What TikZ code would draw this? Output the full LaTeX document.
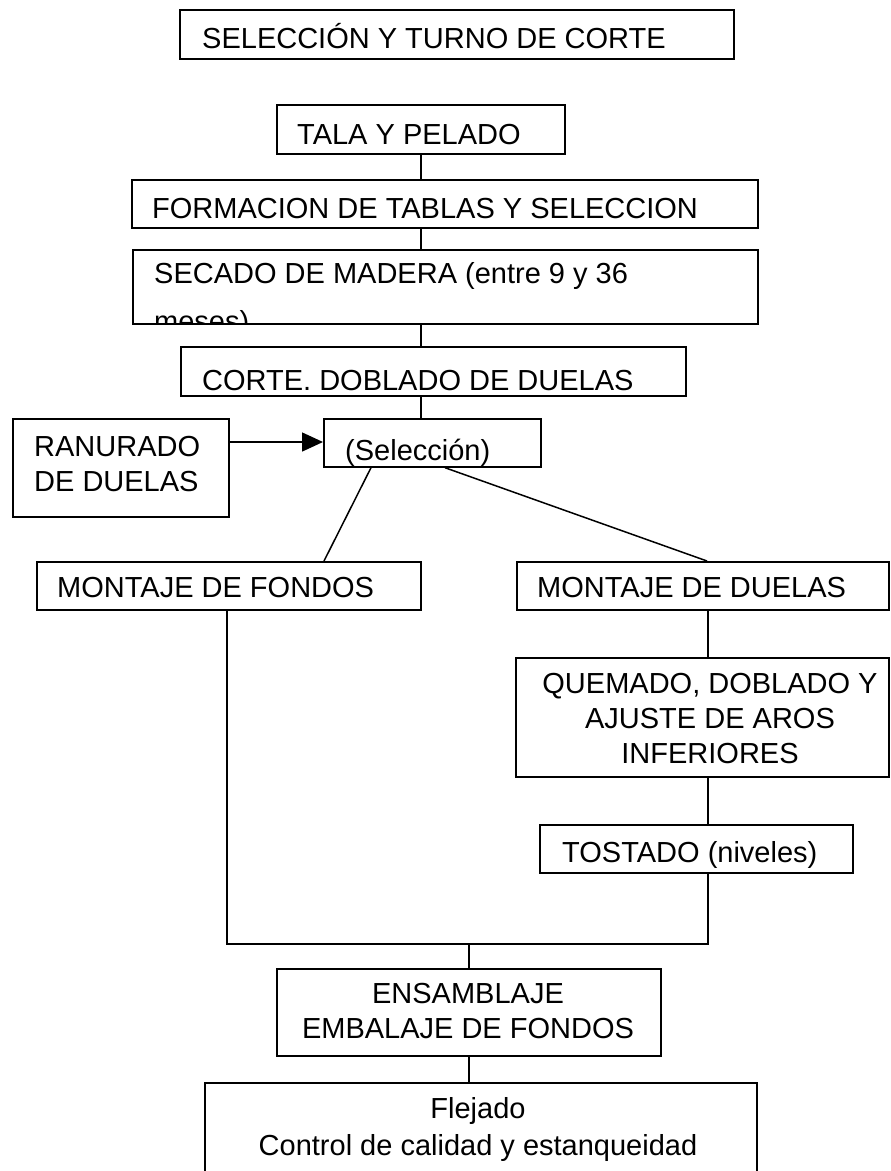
\documentclass[tikz,border=0pt]{standalone}
\usepackage{fontspec}
\setmainfont{Liberation Sans}
\usetikzlibrary{arrows.meta,calc}
\begin{document}
\begin{tikzpicture}[x=1pt,y=-1pt,
  box/.style={draw,line width=1.7pt,inner sep=0pt,anchor=north west},
  txt/.style={inner sep=0pt,anchor=base west,font=\fontsize{29}{35}\selectfont},
  ctxt/.style={inner sep=0pt,anchor=base,font=\fontsize{29}{35}\selectfont},
  conn/.style={line width=1.5pt}]
\useasboundingbox (0,0) rectangle (891,1171);
\fill[white] (0,0) rectangle (891,1171);
\clip (0,0) rectangle (891,1171);
% boxes
\node[box,minimum width=554pt,minimum height=49pt] (sel) at (179,9) {};
\node[box,minimum width=288pt,minimum height=49pt] (tala) at (276,104) {};
\node[box,minimum width=626pt,minimum height=48pt] (form) at (131,179) {};
\node[box,minimum width=625pt,minimum height=74pt] (secado) at (132,249) {};
\node[box,minimum width=505pt,minimum height=49pt] (corte) at (180,346) {};
\node[box,minimum width=216pt,minimum height=98pt] (ran) at (12,418) {};
\node[box,minimum width=217pt,minimum height=48pt] (sel2) at (323,418) {};
\node[box,minimum width=384pt,minimum height=48pt] (mf) at (36,561) {};
\node[box,minimum width=372pt,minimum height=48pt] (md) at (516,561) {};
\node[box,minimum width=373pt,minimum height=119pt] (quem) at (515,657) {};
\node[box,minimum width=313pt,minimum height=48pt] (tost) at (539,824) {};
\node[box,minimum width=384pt,minimum height=87pt] (ens) at (276,968) {};
\node[box,minimum width=552pt,minimum height=130pt] (flej) at (204,1082) {};
% texts
\node[txt] (sel-t) at (202,48) {SELECCIÓN Y TURNO DE CORTE};
\node[txt] (tala-t) at (297,144) {TALA Y PELADO};
\node[txt] (form-t) at (152,218) {FORMACION DE TABLAS Y SELECCION};
\begin{scope}
\clip (secado.north west) rectangle (secado.south east);
\node[txt] (secado-t1) at (154,283) {SECADO DE MADERA (entre 9 y 36};
\node[txt] (secado-t2) at (154,331) {meses)};
\end{scope}
\node[txt] (corte-t) at (202,390) {CORTE. DOBLADO DE DUELAS};
\node[txt] (ran-t1) at (34,456) {RANURADO};
\node[txt] (ran-t2) at (34,491) {DE DUELAS};
\begin{scope}
\clip (sel2.north west) rectangle (sel2.south east);
\node[txt] (sel2-t) at (345,460) {(Selección)};
\end{scope}
\node[txt] (mf-t) at (57,597) {MONTAJE DE FONDOS};
\node[txt] (md-t) at (537,597) {MONTAJE DE DUELAS};
\node[ctxt] (quem-t1) at (710,693) {QUEMADO, DOBLADO Y};
\node[ctxt] (quem-t2) at (710,728) {AJUSTE DE AROS};
\node[ctxt] (quem-t3) at (710,763) {INFERIORES};
\node[txt] (tost-t) at (562,862) {TOSTADO (niveles)};
\node[ctxt] (ens-t1) at (468,1003) {ENSAMBLAJE};
\node[ctxt] (ens-t2) at (468,1038) {EMBALAJE DE FONDOS};
\node[ctxt] (flej-t1) at (478,1118) {Flejado};
\node[ctxt] (flej-t2) at (478,1155) {Control de calidad y estanqueidad};
% helper coordinates
\coordinate (ay) at (0,442);
\coordinate (vx) at (708,0);
\coordinate (lx) at (227,0);
\coordinate (jy) at (0,944);
% connectors
\draw[conn] (tala.south) -- (tala.south |- form.north);
\draw[conn] (tala.south |- form.south) -- (tala.south |- secado.north);
\draw[conn] (tala.south |- secado.south) -- (tala.south |- corte.north);
\draw[conn] (tala.south |- corte.south) -- (tala.south |- sel2.north);
\draw[conn,-{Triangle[length=21pt,width=19pt]}] (ran.east |- ay) -- (sel2.west |- ay);
\draw[conn] ([xshift=48pt]sel2.south west) -- ([xshift=288pt]mf.north west);
\draw[conn] ([xshift=122pt]sel2.south west) -- ([xshift=191pt]md.north west);
\draw[conn] (vx |- md.south) -- (vx |- quem.north);
\draw[conn] (vx |- quem.south) -- (vx |- tost.north);
\draw[conn] (lx |- mf.south) -- (lx |- jy) -- (vx |- jy) -- (vx |- tost.south);
\draw[conn] (ens.north |- jy) -- (ens.north);
\draw[conn] (ens.south) -- (ens.south |- flej.north);
\end{tikzpicture}
\end{document}
